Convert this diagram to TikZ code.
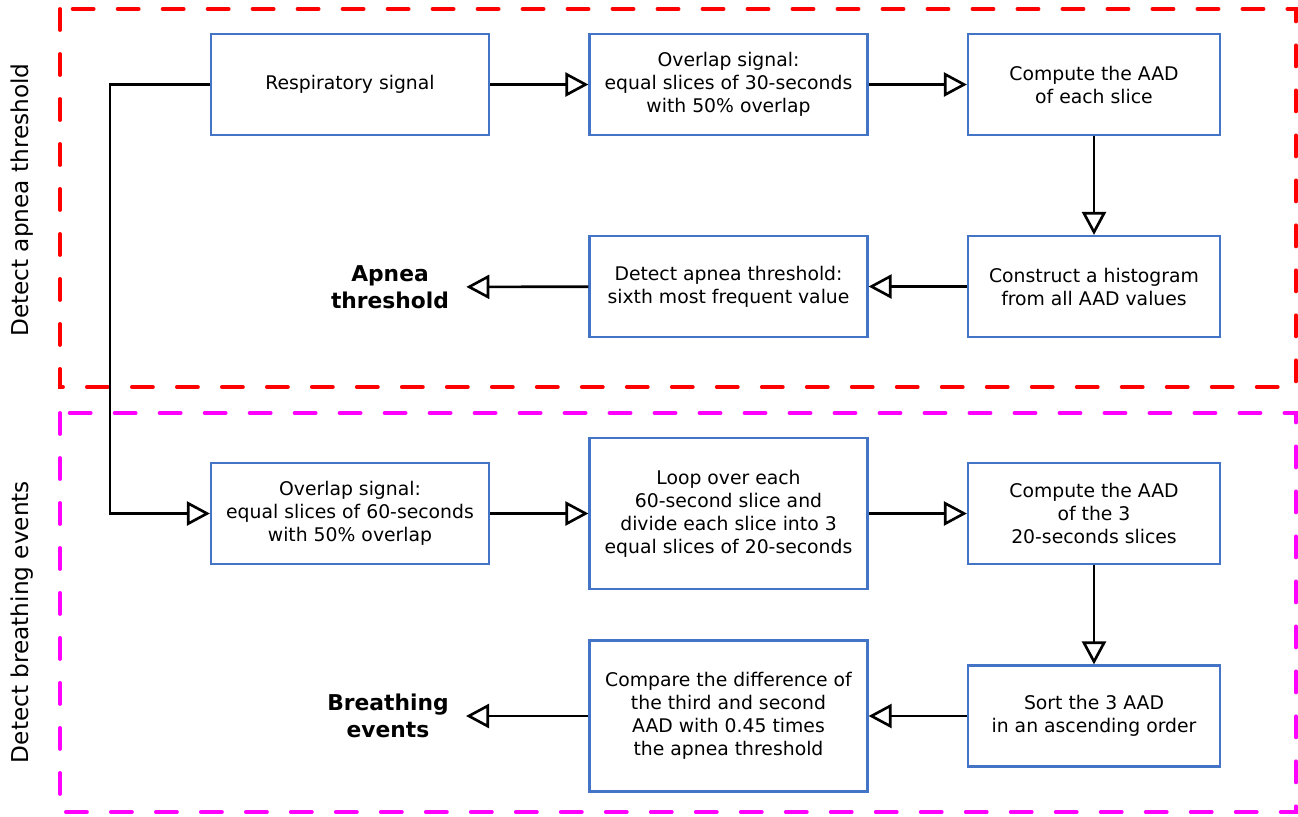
\documentclass[tikz,border=0pt]{standalone}
\usepackage{fontspec}
\setmainfont{DejaVu Sans}
\usepackage{tikz}
\usetikzlibrary{arrows.meta}
\usepackage{xcolor}
\definecolor{boxblue}{RGB}{68,116,198}
\definecolor{stageA}{RGB}{255,0,0}
\definecolor{stageB}{RGB}{255,0,255}

\begin{document}
\begin{tikzpicture}[
  x=0.02cm, y=-0.02cm,
  box/.style={draw=boxblue,line width=1.3pt,fill=white,align=center,
    minimum width=\boxw,minimum height=\boxh,inner sep=2pt,
    font=\fontsize{10.7}{13.1}\selectfont},
  narrowbox/.style={box,minimum width=\nboxw},
  tallbox/.style={box,minimum height=\tboxh},
  result/.style={align=center,inner xsep=0.34cm,
    font=\fontsize{12.4}{15.3}\selectfont\bfseries},
  side/.style={rotate=90,font=\fontsize{13.2}{16}\selectfont},
  conn/.style={line width=1.5pt,-{Triangle[open,length=0.46cm,width=0.48cm]}},
  group/.style={line width=2.2pt,line cap=round,dash pattern=on 0.42cm off 0.48cm}
  ]
\def\boxw{5.56cm}
\def\nboxw{5.04cm}
\def\boxh{2.02cm}
\def\tboxh{3.02cm}
\useasboundingbox (0,0) rectangle (1298,816);
% the two stages
\draw[group,stageA] (60,9) rectangle (1296,387);
\draw[group,stageB] (60,413) rectangle (1296,812);
\node[side] (sideA) at (22,200) {Detect apnea threshold};
\node[side] (sideB) at (22,622) {Detect breathing events};
% apnea threshold
\node[box] (A1) at (350,84.5) {Respiratory signal};
\node[box] (A2) at (728.5,84.5) {Overlap signal:\\equal slices of 30-seconds\\with 50\% overlap};
\node[narrowbox] (A3) at (1094,84.5) {Compute the AAD\\of each slice};
\node[narrowbox] (A4) at (1094,286.5) {Construct a histogram\\from all AAD values};
\node[box] (A5) at (728.5,286.5) {Detect apnea threshold:\\sixth most frequent value};
\node[result] (apnea) at (390,287) {Apnea\\threshold};
% breathing events
\node[box] (B1) at (350,513.5) {Overlap signal:\\equal slices of 60-seconds\\with 50\% overlap};
\node[tallbox] (B2) at (728.5,513.5) {Loop over each\\60-second slice and\\divide each slice into 3\\equal slices of 20-seconds};
\node[narrowbox] (B3) at (1094,513.5) {Compute the AAD\\of the 3\\20-seconds slices};
\node[narrowbox] (B4) at (1094,716) {Sort the 3 AAD\\in an ascending order};
\node[tallbox] (B5) at (728.5,716) {Compare the difference of\\the third and second\\AAD with 0.45 times\\ the apnea threshold};
\node[result] (events) at (388,716) {Breathing\\events};
\coordinate (bend) at (110,84.5);
\draw[conn] (A1) -- (A2);
\draw[conn] (A2) -- (A3);
\draw[conn] (A3) -- (A4);
\draw[conn] (A4) -- (A5);
\draw[conn] (A5) -- (apnea);
\draw[conn] (A1.west) -- (bend) |- (B1.west);
\draw[conn] (B1) -- (B2);
\draw[conn] (B2) -- (B3);
\draw[conn] (B3) -- (B4);
\draw[conn] (B4) -- (B5);
\draw[conn] (B5) -- (events);
\end{tikzpicture}
\end{document}
